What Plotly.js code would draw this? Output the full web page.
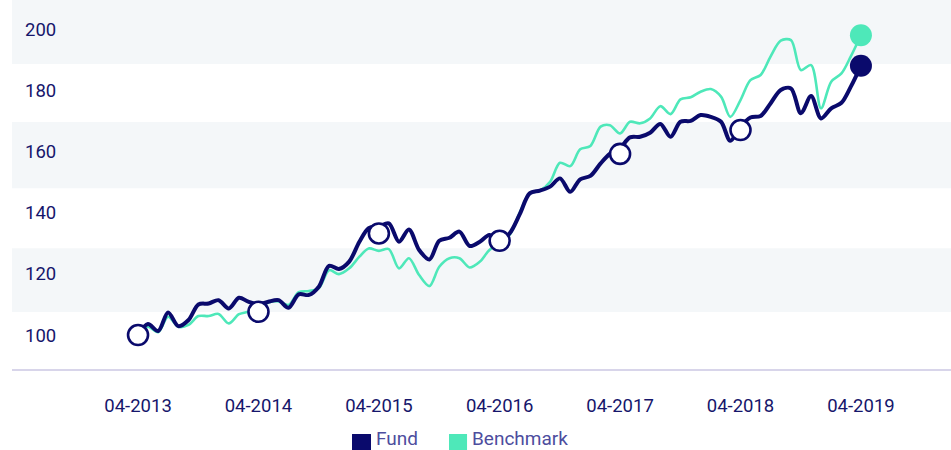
<!DOCTYPE html>
<html>
<head>
<meta charset="utf-8">
<script src="https://cdn.plot.ly/plotly-3.0.1.min.js"></script>
<style>
html,body{margin:0;padding:0;background:#fff;}
#chart{width:951px;height:450px;}
</style>
</head>
<body>
<div id="chart"></div>
<script>
// Monthly series, starting 04-2013
var startYear = 2013, startMonth = 4;
var fund = [100,103.6,101.3,107.4,102.9,104.9,110.0,110.3,111.4,108.7,112.2,110.9,
  110.0,110.9,111.4,108.9,113.3,113.1,115.8,122.6,121.6,124.0,130.5,134.9,
  135.5,136.5,130.5,134.5,127.8,124.7,130.8,131.8,133.8,129.1,130.5,132.7,
  131.0,133.2,139.5,146.3,147.2,148.5,151.2,146.8,150.9,152.0,156.1,159.2,
  161.1,164.6,164.8,166.1,169.0,164.8,169.7,170.0,171.9,171.3,169.7,163.5,
  168.1,171.1,171.6,175.7,180.1,180.6,172.5,178.1,170.8,174.1,175.9,181.1,
  188.0];
var benchmark = [100,102.7,100.9,106.0,102.7,103.3,106.2,106.2,106.9,103.8,106.8,107.6,
  108.5,110.6,111.0,109.8,114.0,114.4,115.3,121.2,119.9,121.8,125.6,128.3,
  127.5,128.1,121.8,125.1,119.6,116.0,122.3,125.1,125.1,122.1,124.0,127.8,
  130.0,132.7,140.0,146.3,147.2,150.1,156.3,155.2,160.7,161.8,168.1,168.6,
  165.9,169.7,169.2,170.8,174.8,172.2,177.0,177.7,179.5,180.4,177.9,171.3,
  176.8,183.3,185.0,191.0,196.2,196.4,186.6,188.2,174.1,182.8,185.5,191.0,
  198.0];
// Yearly markers on the fund line
var markerDates = ['2013-04-01','2014-04-01','2015-04-01','2016-04-01','2017-04-01','2018-04-01'];
var markerValues = [100,107.6,133.2,130.8,159.2,167.0];
var endDate = '2019-04-01';
var fundEnd = 188.0, benchmarkEnd = 198.0;
var xTickVals = ['2013-04-01','2014-04-01','2015-04-01','2016-04-01','2017-04-01','2018-04-01','2019-04-01'];
var xTickText = ['04-2013','04-2014','04-2015','04-2016','04-2017','04-2018','04-2019'];
var yTickVals = [100,120,140,160,180,200];
var seriesNames = ['Fund','Benchmark'];

var NAVY = '#0a0a6c', MINT = '#4ee8b9';
var TEXT = '#16166b', LEGEND_TEXT = '#4d4d9e';

function monthDates(n){
  var out=[];
  for(var i=0;i<n;i++){
    var m = startMonth-1+i;
    var y = startYear + Math.floor(m/12);
    var mm = (m%12)+1;
    out.push(y+'-'+(mm<10?'0':'')+mm+'-01');
  }
  return out;
}
var dates = monthDates(fund.length);

var traces = [
  {x:dates, y:benchmark, name:seriesNames[1], type:'scatter', mode:'lines', line:{color:MINT,width:2.6,shape:'spline',smoothing:0.9}, hoverinfo:'skip'},
  {x:dates, y:fund, name:seriesNames[0], type:'scatter', mode:'lines', line:{color:NAVY,width:4,shape:'spline',smoothing:0.9}, hoverinfo:'skip'},
  {x:markerDates, y:markerValues, type:'scatter', mode:'markers', marker:{size:20,color:'#ffffff',line:{color:NAVY,width:2.6}}},
  {x:[endDate], y:[benchmarkEnd], type:'scatter', mode:'markers', marker:{size:22,color:MINT}},
  {x:[endDate], y:[fundEnd], type:'scatter', mode:'markers', marker:{size:22,color:NAVY}}
];

var BAND = '#f4f7f9';
var bands = [[188.6,215],[148.0,169.6],[107.5,128.4]];
var shapes = bands.map(function(b){
  return {type:'rect', xref:'paper', yref:'y', x0:0, x1:1, y0:b[0], y1:b[1], fillcolor:BAND, line:{width:0}, layer:'below'};
});

// Custom legend (squares + labels) placed below the x axis
var legendColors = [NAVY, MINT];
var legendBoxX = [[0.3621,0.3823],[0.4654,0.4846]];
var legendTextX = [0.3865,0.4890];
legendColors.forEach(function(c,i){
  shapes.push({type:'rect', xref:'paper', yref:'paper', x0:legendBoxX[i][0], x1:legendBoxX[i][1], y0:-0.222, y1:-0.1762,
    fillcolor:c, line:{width:0}});
});
var annotations = seriesNames.map(function(n,i){
  return {xref:'paper', yref:'paper', x:legendTextX[i], y:-0.1883, xanchor:'left', yanchor:'middle', borderpad:0,
    text:n, showarrow:false, font:{family:'Roboto, sans-serif', size:19, color:LEGEND_TEXT}};
});

var layout = {
  width:951, height:450,
  margin:{l:12, r:0, t:0, b:81},
  paper_bgcolor:'#ffffff', plot_bgcolor:'#ffffff',
  font:{family:'Roboto, sans-serif', size:18, color:TEXT},
  showlegend:false,
  xaxis:{type:'date', range:['2012-03-15','2019-12-30'], tickvals:xTickVals, ticktext:xTickText,
    showgrid:false, zeroline:false, showline:true, linecolor:'#d8d5ea', linewidth:2, automargin:false,
    ticks:'', ticklabelstandoff:19, tickfont:{size:18.5,color:TEXT}, fixedrange:true},
  yaxis:{range:[88.9,209.5], tickvals:yTickVals, showgrid:false, zeroline:false, showline:false, automargin:false,
    ticks:'', ticklabelposition:'inside', ticklabelstandoff:10, tickfont:{size:18.5,color:TEXT}, fixedrange:true},
  shapes:shapes,
  annotations:annotations
};

Plotly.newPlot('chart', traces, layout, {staticPlot:true, displayModeBar:false});
</script>
</body>
</html>
